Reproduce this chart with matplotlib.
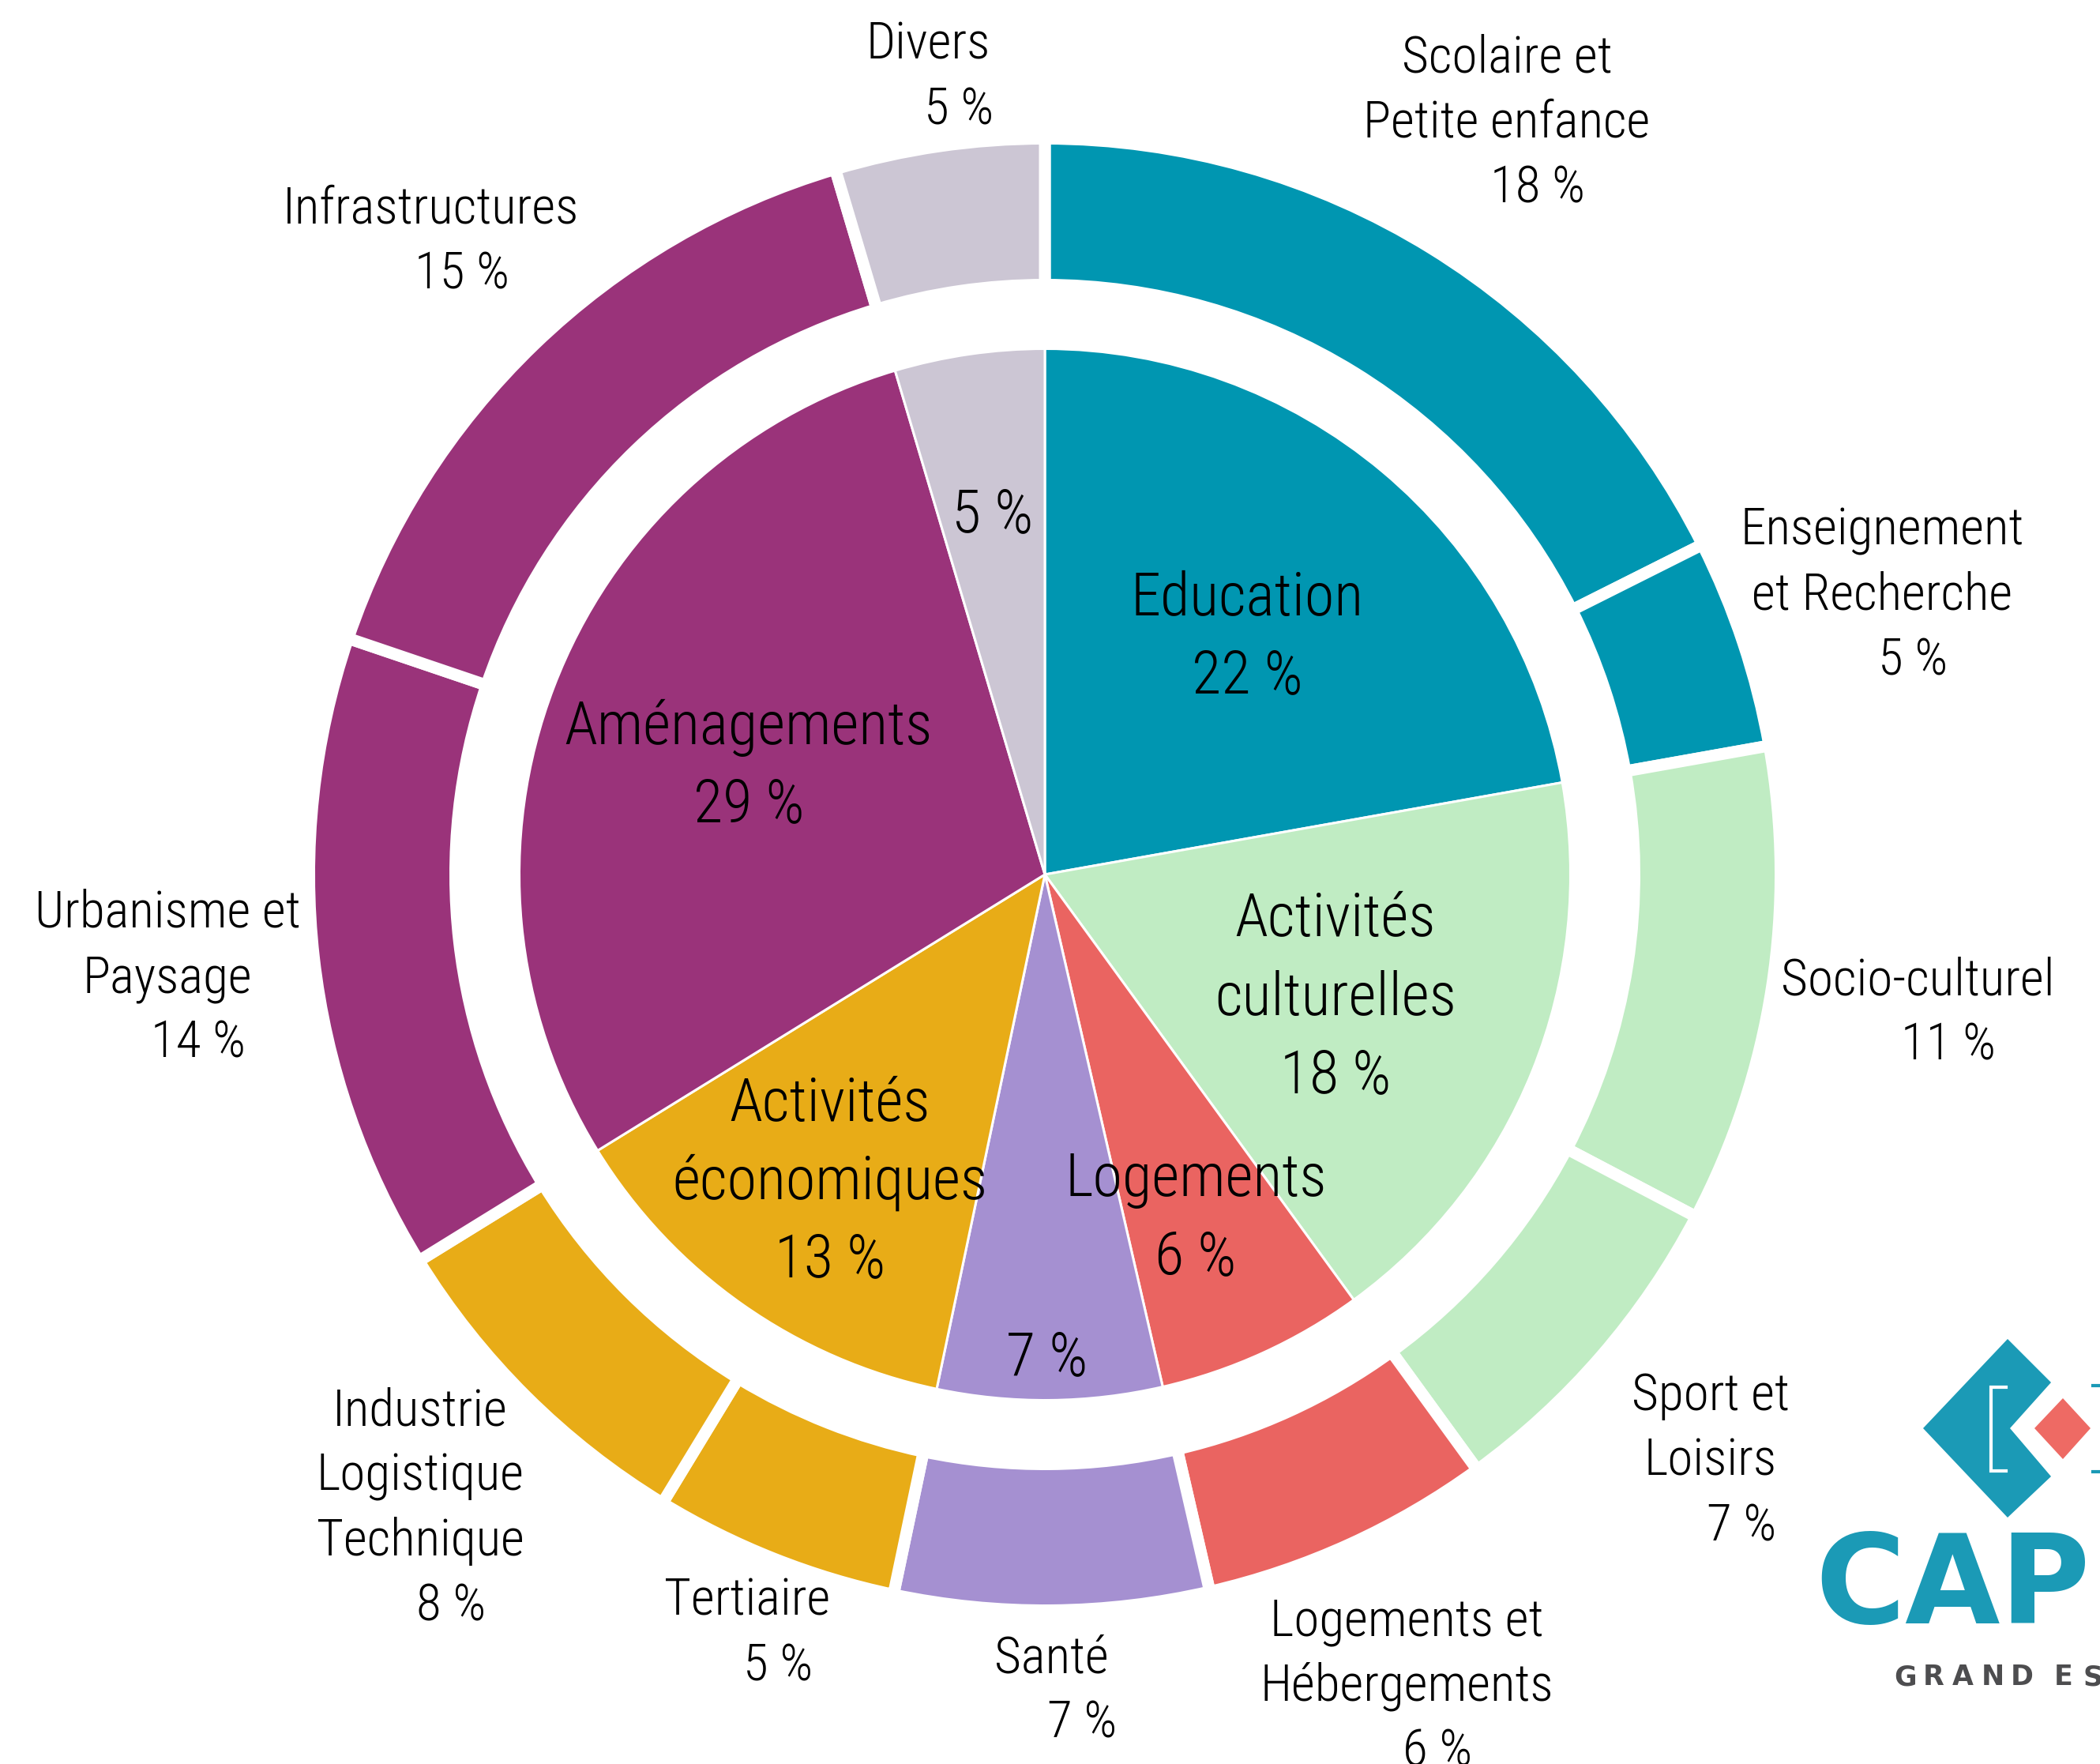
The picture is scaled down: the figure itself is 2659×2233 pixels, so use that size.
import matplotlib
matplotlib.use('Agg')
import matplotlib.pyplot as plt
from matplotlib import font_manager
from matplotlib.patches import Polygon

W, H = 2659, 2233

# inner ring (families)
inner_names = ['Education', 'Activités\nculturelles', 'Logements', 'Santé',
               'Activités\néconomiques', 'Aménagements', 'Divers']
inner_values = [22.2, 17.8, 6.4, 6.9, 12.9, 29.2, 4.6]
inner_pct = ['22 %', '18 %', '6 %', '7 %', '13 %', '29 %', '5 %']
inner_show_name = [True, True, True, False, True, True, False]
inner_colors = ['#0096B1', '#C0ECC3', '#EA6461', '#A590D1', '#E8AC17', '#9A337A', '#CCC6D4']

# outer ring (sub-categories)
outer_names = ['Scolaire et\nPetite enfance', 'Enseignement\net Recherche', 'Socio-culturel',
               'Sport et\nLoisirs', 'Logements et\nHébergements', 'Santé', 'Tertiaire',
               'Industrie\nLogistique\nTechnique', 'Urbanisme et\nPaysage', 'Infrastructures',
               'Divers']
outer_values = [17.6, 4.6, 10.5, 7.3, 6.4, 6.9, 5.4, 7.5, 14.0, 15.2, 4.6]
outer_pct = ['18 %', '5 %', '11 %', '7 %', '6 %', '7 %', '5 %', '8 %', '14 %', '15 %', '5 %']
outer_colors = ['#0096B1', '#0096B1', '#C0ECC3', '#C0ECC3', '#EA6461', '#A590D1',
                '#E8AC17', '#E8AC17', '#9A337A', '#9A337A', '#CCC6D4']

# label anchors (pixel coords from top-left, centre of first line)
inner_pos = [(1579, 751), (1691, 1158), (1514, 1487), (1326, 1713),
             (1051, 1391), (948, 914), (1257, 646)]
outer_pos = [(1908, 68), (2383, 666), (2428, 1236), (2166, 1762), (1781, 2047),
             (1331, 2094), (946, 2021), (532, 1781), (212, 1150), (546, 259), (1175, 51)]

# pick a narrow font if there is one
available = {f.name for f in font_manager.fontManager.ttflist}
FONT = 'DejaVu Sans'
for cand in ['Roboto Condensed', 'Liberation Sans Narrow', 'Open Sans Condensed', 'Roboto']:
    if cand in available:
        FONT = cand
        break

CX, CY = 1323, 1107


def Y(y):
    return H - y


fig = plt.figure(figsize=(W / 100, H / 100), dpi=100)
ax = fig.add_axes([0, 0, 1, 1])

ax.pie(inner_values, radius=665.5, center=(CX, Y(CY)), startangle=90, counterclock=False,
       colors=inner_colors, wedgeprops=dict(edgecolor='white', linewidth=2.2))
ax.pie(outer_values, radius=931.5, center=(CX, Y(CY)), startangle=90, counterclock=False,
       colors=outer_colors, wedgeprops=dict(width=185, edgecolor='white', linewidth=10.8))


def draw_lines(lines, x, y, size, cap, pitch):
    for i, line in enumerate(lines):
        ax.text(x, Y(y + i * pitch + cap / 2), line, fontsize=size, family=FONT,
                fontweight='light', ha='center', va='baseline', color='black')


# inner labels
for name, pct, show, (x, y) in zip(inner_names, inner_pct, inner_show_name, inner_pos):
    lines = (name.split('\n') if show else []) + [pct]
    draw_lines(lines, x, y, 55, 55, 99)

# outer labels
for name, pct, (x, y) in zip(outer_names, outer_pct, outer_pos):
    lines = name.split('\n')
    draw_lines(lines, x, y, 47, 47, 82.5)
    draw_lines([pct], x + 39, y + len(lines) * 82.5, 47, 47, 82.5)

# logo (bottom right, cut by the edge)
logo_teal = '#1B9AB6'
teal_shape = [(2435, 1808), (2542, 1695), (2597, 1750), (2545, 1808), (2597, 1869), (2542, 1921)]
ax.add_patch(Polygon([(x, Y(y)) for x, y in teal_shape], closed=True, color=logo_teal, lw=0))
red_shape = [(2576, 1808), (2612, 1770), (2647, 1808), (2612, 1847)]
ax.add_patch(Polygon([(x, Y(y)) for x, y in red_shape], closed=True, color='#EE6A64', lw=0))
ax.plot([2540, 2521, 2521, 2540], [Y(1756), Y(1756), Y(1862), Y(1862)],
        color='white', lw=3, solid_joinstyle='miter')
ax.plot([2650, 2659], [Y(1754), Y(1754)], color=logo_teal, lw=3)
ax.plot([2650, 2659], [Y(1863), Y(1863)], color=logo_teal, lw=3)
ax.text(2298, Y(2055), 'CAPEB', fontsize=112, fontweight='bold', family='DejaVu Sans',
        color=logo_teal, ha='left', va='baseline')
x = 2398
for ch in 'GRAND EST':
    if ch == ' ':
        x += 18
        continue
    ax.text(x, Y(2133), ch, fontsize=25, fontweight='bold', family='DejaVu Sans',
            color='#4D4D4F', ha='left', va='baseline')
    x += 37

ax.set_xlim(0, W)
ax.set_ylim(0, H)
ax.set_aspect('equal')
ax.axis('off')

fig.savefig('out.png', dpi=100, facecolor='white')
